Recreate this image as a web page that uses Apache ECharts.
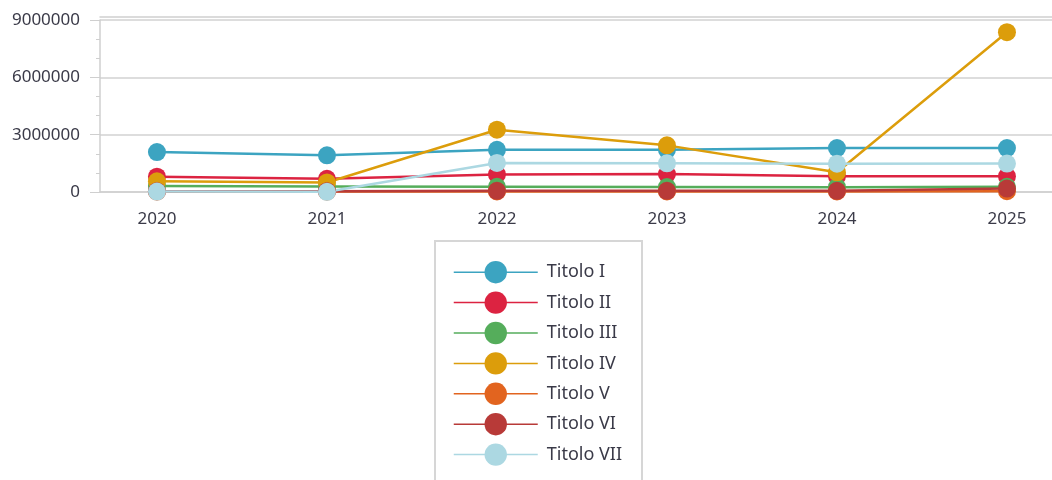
<!DOCTYPE html>
<html lang="it">
  <head>
    <meta charset="UTF-8" />
    <title>Titoli 2020-2025</title>
    <script src="https://cdn.jsdelivr.net/npm/echarts@6/dist/echarts.min.js"></script>
    <style>
      html, body { margin: 0; padding: 0; background: #fff; }
      #main { width: 1052px; height: 480px; }
    </style>
  </head>
  <body>
    <div id="main"></div>
    <script>
      // dati
      var years = [2020, 2021, 2022, 2023, 2024, 2025];
      var yTicks = [0, 3000000, 6000000, 9000000];
      var names = ["Titolo I", "Titolo II", "Titolo III", "Titolo IV", "Titolo V", "Titolo VI", "Titolo VII"];
      var titolo1 = [2090000, 1920000, 2210000, 2210000, 2300000, 2300000];
      var titolo2 = [800000, 690000, 920000, 940000, 820000, 820000];
      var titolo3 = [310000, 290000, 270000, 260000, 250000, 270000];
      var titolo4 = [560000, 500000, 3260000, 2440000, 1030000, 8360000];
      var titolo5 = [20000, 20000, 30000, 30000, 30000, 40000];
      var titolo6 = [40000, 40000, 60000, 60000, 60000, 180000];
      var titolo7 = [20000, 10000, 1520000, 1500000, 1480000, 1490000];
      var colors = ["#3ca4c1", "#dc2341", "#55ad5b", "#dc9d0b", "#e2641f", "#b83a38", "#acd8e2"];

      var values = [titolo1, titolo2, titolo3, titolo4, titolo5, titolo6, titolo7];
      var font = "Noto Sans";

      var chart = echarts.init(document.getElementById("main"));

      var series = names.map(function (n, i) {
        return {
          name: n,
          type: "line",
          data: values[i].map(function (v, j) { return [years[j], v]; }),
          symbol: "circle",
          symbolSize: 18,
          lineStyle: { width: 2.5, color: colors[i] },
          itemStyle: { color: colors[i] },
          emphasis: { disabled: true },
          xAxisIndex: 0
        };
      });

      var option = {
        animation: false,
        grid: { left: 100, right: 0, top: 20, bottom: 288, containLabel: false },
        xAxis: [
          {
            type: "value",
            min: 2019.665,
            max: 2025.265,
            axisLine: { lineStyle: { color: "#cfcfcf", width: 1.5 } },
            axisTick: { show: true, length: 7, customValues: years, lineStyle: { color: "#cfcfcf" } },
            axisLabel: {
              customValues: years,
              margin: 19,
              color: "#3a3a48",
              fontFamily: font,
              fontSize: 17,
              formatter: function (v) { return String(v); }
            },
            splitLine: { show: false }
          },
          {
            type: "value",
            position: "top",
            offset: 3,
            min: 0,
            max: 1,
            axisLine: { show: true, lineStyle: { color: "#cfcfcf", width: 1.5 } },
            axisTick: { show: false },
            axisLabel: { show: false },
            splitLine: { show: false }
          }
        ],
        yAxis: {
          type: "value",
          min: yTicks[0],
          max: yTicks[yTicks.length - 1],
          interval: 3000000,
          axisLine: { show: true, lineStyle: { color: "#cfcfcf", width: 1.5 } },
          axisTick: { show: true, length: 10, lineStyle: { color: "#cfcfcf" } },
          minorTick: { show: true, splitNumber: 3, length: 4, lineStyle: { color: "#cfcfcf" } },
          axisLabel: {
            margin: 20,
            color: "#3a3a48",
            fontFamily: font,
            fontSize: 17,
            formatter: function (v) { return String(v); }
          },
          splitLine: { show: true, lineStyle: { color: "#d2d2d2", width: 1.5 } }
        },
        legend: {
          data: names,
          orient: "vertical",
          left: 435,
          top: 241,
          height: 400,
          padding: [20, 20, 20, 18],
          itemWidth: 84,
          itemHeight: 28,
          itemGap: 8,
          borderColor: "#d6d6d6",
          borderWidth: 2,
          lineStyle: { width: 1.5 },
          textStyle: { color: "#3a3a48", fontFamily: font, fontSize: 18, padding: [0, 0, 0, 4] }
        },
        series: series
      };

      chart.setOption(option);
    </script>
  </body>
</html>
